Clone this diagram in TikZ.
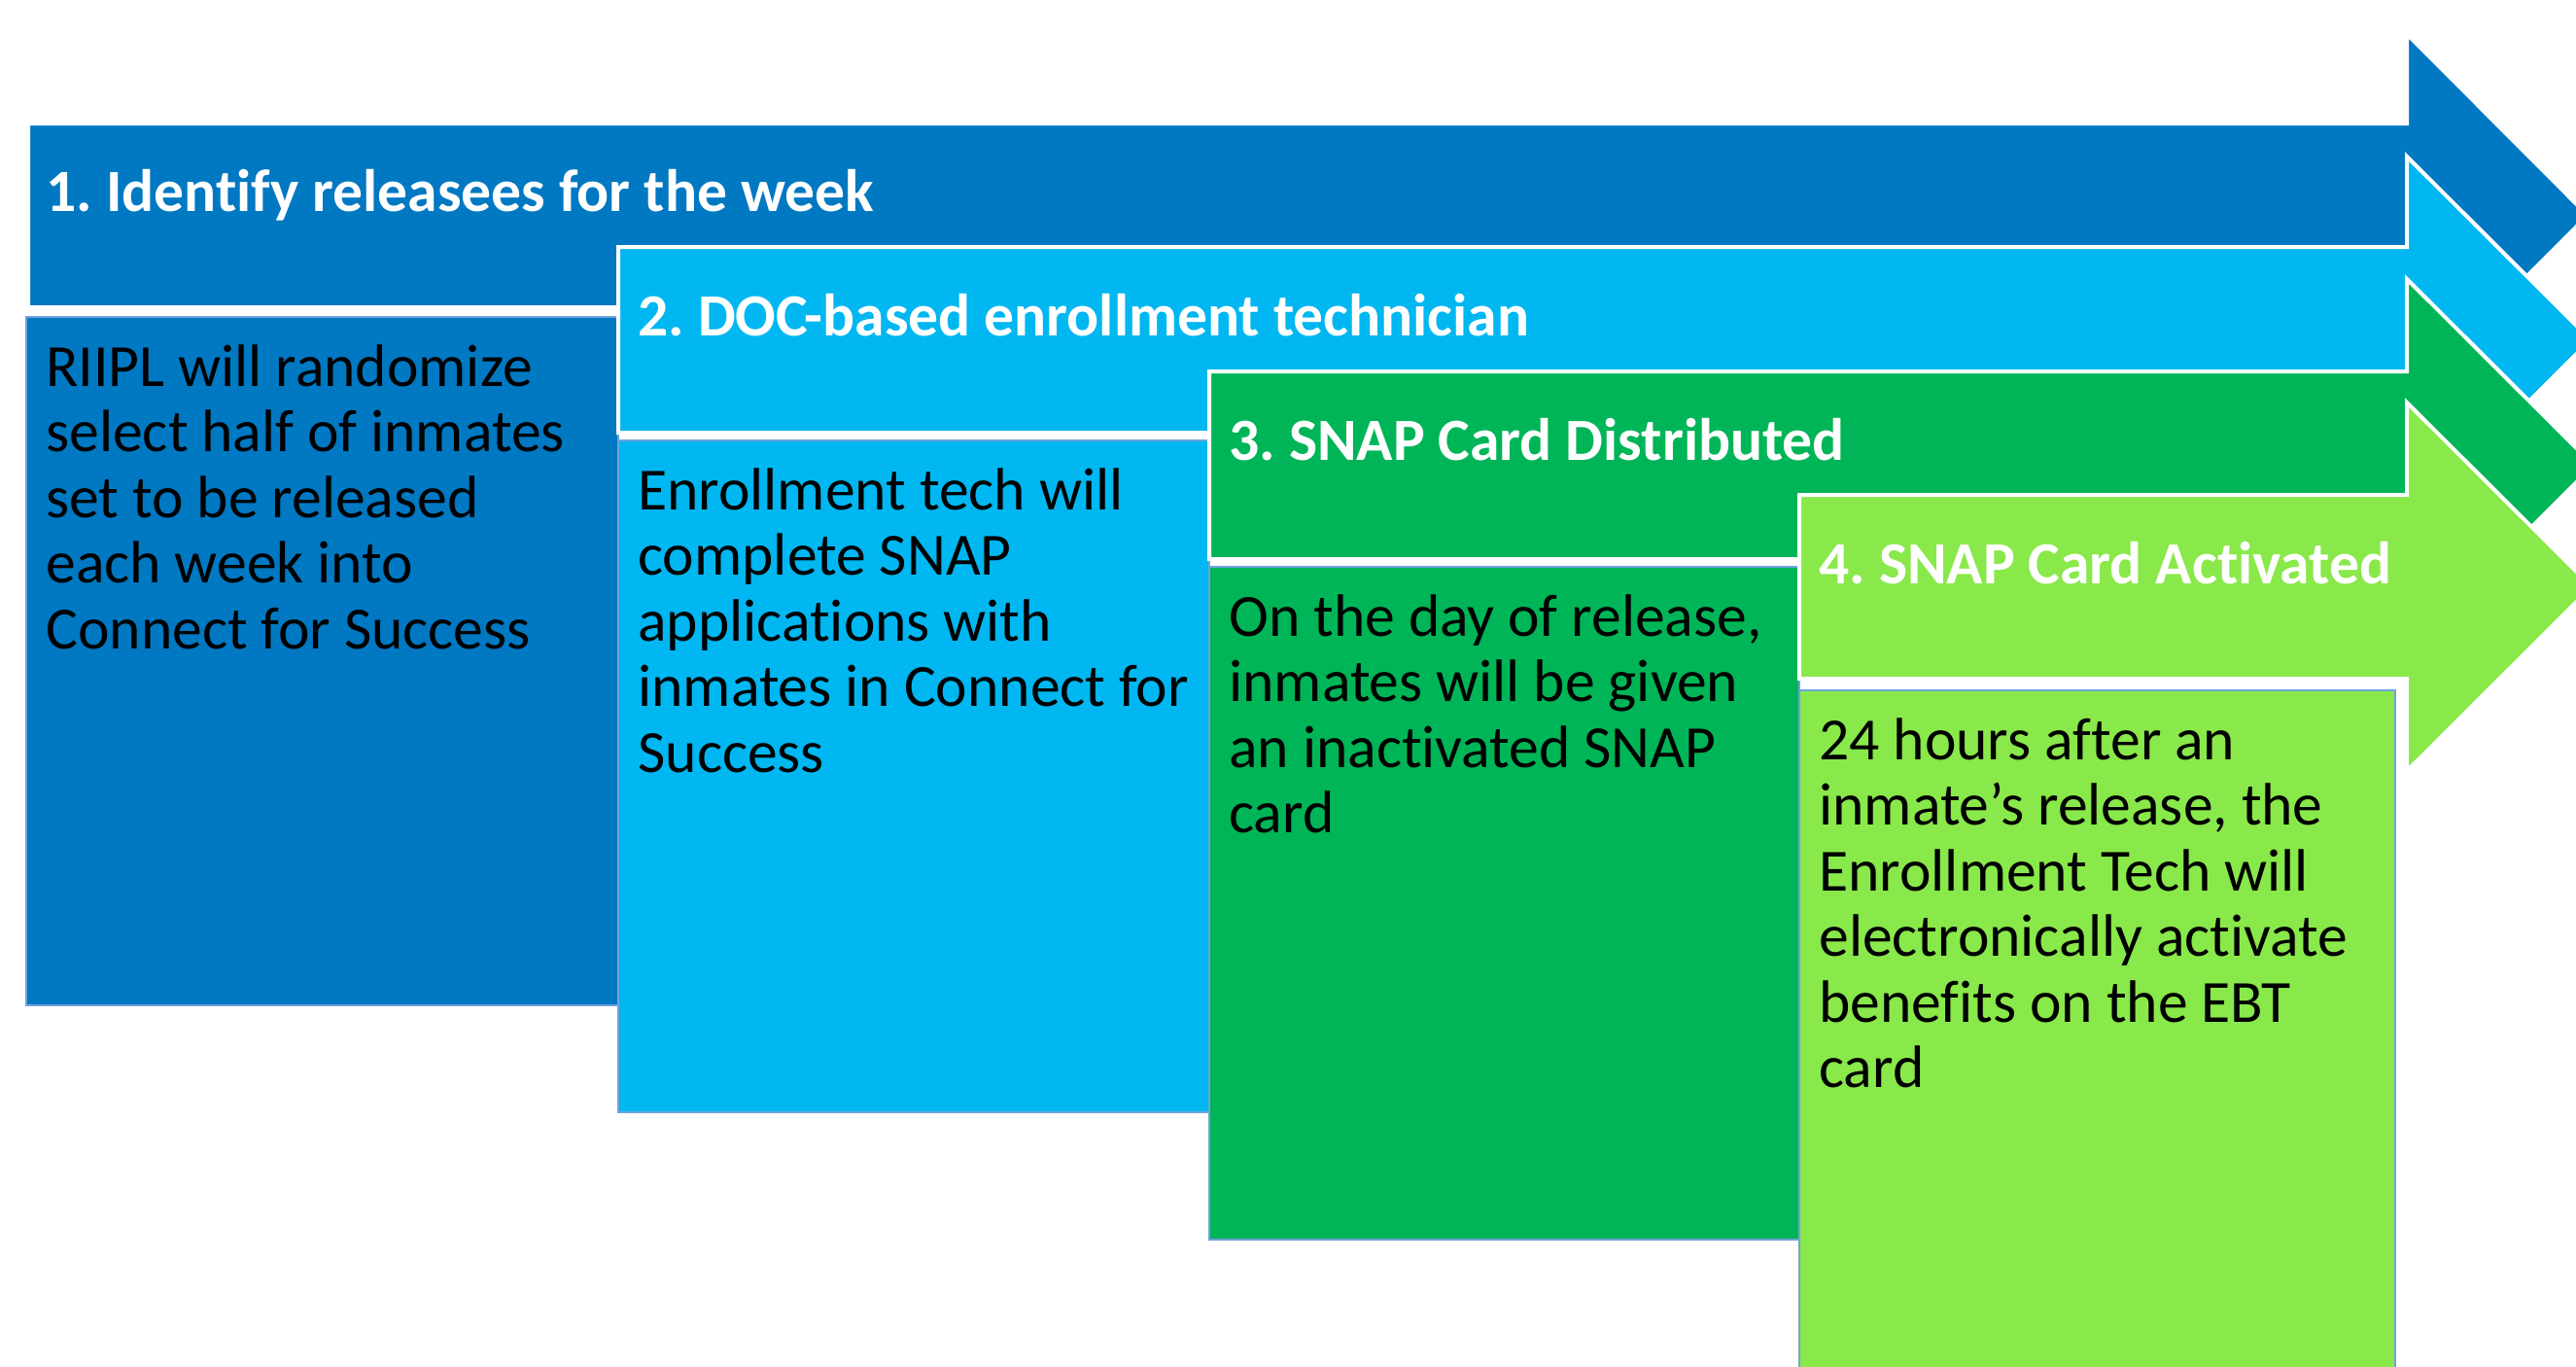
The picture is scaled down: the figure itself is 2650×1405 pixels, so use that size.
\documentclass[tikz,border=0pt]{standalone}
\usepackage{fontspec}
\setmainfont{Carlito}[Ligatures=NoCommon]
\frenchspacing
\definecolor{cA}{HTML}{0078C2}
\definecolor{cB}{HTML}{00B7F1}
\definecolor{cC}{HTML}{00B557}
\definecolor{cD}{HTML}{89E84A}
\definecolor{bordc}{HTML}{6FA3DC}
\tikzset{
  arr/.style={draw=white, line width=2pt, line join=miter},
  stepbox/.style={draw=bordc, line width=1.2pt},
  head/.style={anchor=base west, inner sep=0pt, text=white, font=\bfseries\fontsize{30.8}{33.75}\selectfont},
  body/.style={anchor=base west, inner sep=0pt, text=black, font=\fontsize{30.8}{33.75}\selectfont},
}
\begin{document}
\begin{tikzpicture}[x=0.5pt,y=-0.5pt]
\useasboundingbox (0,0) rectangle (2650,1405);
\clip (0,0) rectangle (2650,1405);
\fill[white] (0,0) rectangle (2650,1405);

% step 1
\draw[arr, fill=cA] (29,127) -- (2476,127) -- (2476,35) -- (2662,221.5) -- (2476,408) -- (2476,316) -- (29,316) -- cycle;
\draw[stepbox, fill=cA] (27,326) rectangle (636,1034);
\node[head] (h1) at (47,217) {1. Identify releasees for the week};
\node[body] (t1) at (47,397) {\parbox[t]{560pt}{\raggedright RIIPL will randomize\\select half of inmates\\set to be released\\each week into\\Connect for Success}};

% step 2
\draw[arr, fill=cB] (636,254) -- (2476,254) -- (2476,161) -- (2665,349.5) -- (2476,538) -- (2476,445) -- (636,445) -- cycle;
\draw[stepbox, fill=cB] (636,453) rectangle (1244,1144);
\node[head] (h2) at (656,345) {2. DOC-based enrollment technician};
\node[body] (t2) at (656,524) {\parbox[t]{560pt}{\raggedright Enrollment tech will\\complete SNAP\\applications with\\inmates in Connect for\\Success}};

% step 3
\draw[arr, fill=cC] (1244,382) -- (2476,382) -- (2476,287) -- (2668,478.5) -- (2476,670) -- (2476,575) -- (1244,575) -- cycle;
\draw[stepbox, fill=cC] (1244,583) rectangle (1851,1275);
\node[head] (h3) at (1264,473) {3. SNAP Card Distributed};
\node[body] (t3) at (1264,654) {\parbox[t]{560pt}{\raggedright On the day of release,\\inmates will be given\\an inactivated SNAP\\card}};

% step 4
\draw[arr, fill=cD] (1851,509) -- (2476,509) -- (2476,414) -- (2666,603.5) -- (2476,793) -- (2476,698) -- (1851,698) -- cycle;
\draw[stepbox, fill=cD] (1851,710) rectangle (2464,1420);
\node[head] (h4) at (1871,600) {4. SNAP Card Activated};
\node[body] (t4) at (1871,781) {\parbox[t]{560pt}{\raggedright 24 hours after an\\inmate’s release, the\\Enrollment Tech will\\electronically activate\\benefits on the EBT\\card}};
\end{tikzpicture}
\end{document}
